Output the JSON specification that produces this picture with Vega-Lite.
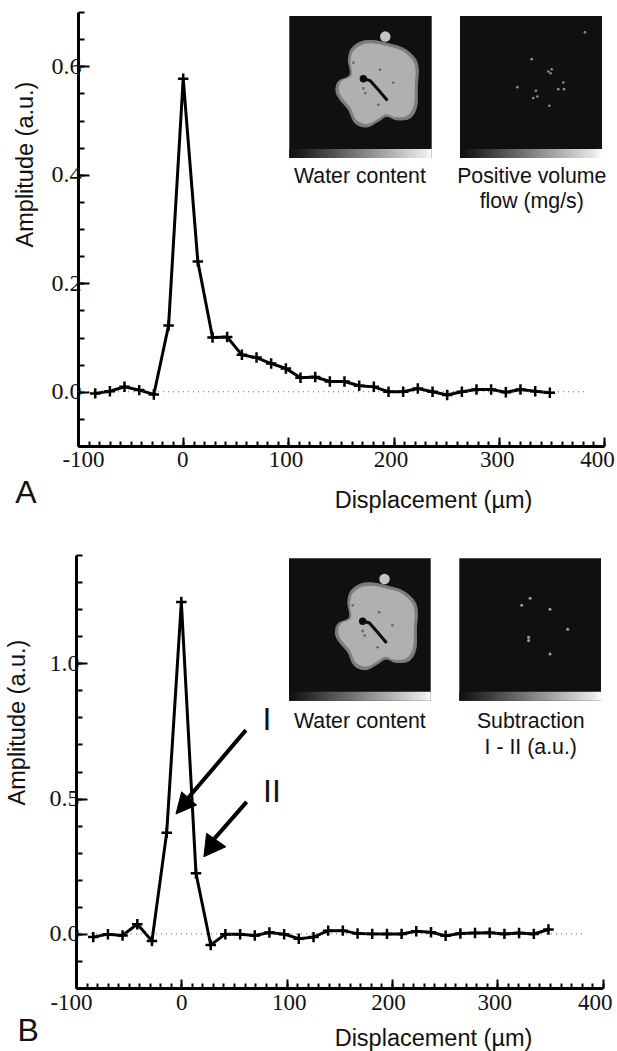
{
"$schema":"https://vega.github.io/schema/vega-lite/v6.json",
"width":617,"height":1051,"padding":0,"autosize":{"type":"none"},"background":"white",
"config":{"view":{"stroke":null},"axis":{"grid":false}},
"datasets":{
"lineA":[{"x":-83.6,"y":-0.003},{"x":-69.7,"y":0.001},{"x":-55.8,"y":0.009},{"x":-41.8,"y":0.003},{"x":-27.9,"y":-0.005},{"x":-13.9,"y":0.122},{"x":0,"y":0.577},{"x":13.9,"y":0.24},{"x":27.9,"y":0.1},{"x":41.8,"y":0.101},{"x":55.8,"y":0.068},{"x":69.7,"y":0.063},{"x":83.6,"y":0.052},{"x":97.6,"y":0.043},{"x":111.5,"y":0.026},{"x":125.5,"y":0.027},{"x":139.4,"y":0.019},{"x":153.3,"y":0.019},{"x":167.3,"y":0.011},{"x":181.2,"y":0.009},{"x":195.2,"y":0},{"x":209.1,"y":0},{"x":223,"y":0.006},{"x":237,"y":0},{"x":250.9,"y":-0.006},{"x":264.9,"y":0},{"x":278.8,"y":0.004},{"x":292.7,"y":0.004},{"x":306.7,"y":-0.001},{"x":320.6,"y":0.004},{"x":334.6,"y":0.001},{"x":348.5,"y":-0.002}],
"lineB":[{"x":-83.6,"y":-0.012},{"x":-69.7,"y":-0.001},{"x":-55.8,"y":-0.006},{"x":-41.8,"y":0.036},{"x":-27.9,"y":-0.026},{"x":-13.9,"y":0.374},{"x":0,"y":1.226},{"x":13.9,"y":0.224},{"x":27.9,"y":-0.041},{"x":41.8,"y":-0.001},{"x":55.8,"y":-0.001},{"x":69.7,"y":-0.006},{"x":83.6,"y":0.005},{"x":97.6,"y":-0.001},{"x":111.5,"y":-0.018},{"x":125.5,"y":-0.012},{"x":139.4,"y":0.012},{"x":153.3,"y":0.012},{"x":167.3,"y":0.001},{"x":181.2,"y":0},{"x":195.2,"y":0},{"x":209.1,"y":0},{"x":223,"y":0.01},{"x":237,"y":0.006},{"x":250.9,"y":-0.007},{"x":264.9,"y":0.001},{"x":278.8,"y":0.003},{"x":292.7,"y":0.004},{"x":306.7,"y":0},{"x":320.6,"y":0.003},{"x":334.6,"y":0},{"x":348.5,"y":0.016}],
"zero":[{"x":-100,"x2":382,"y":0}],
"textA":[{"x":-149.4,"y":-0.186,"t":"A","s":"p"},{"x":168,"y":0.395,"t":"Water content","s":"c"},{"x":331.3,"y":0.395,"t":"Positive volume","s":"c"},{"x":331.3,"y":0.349,"t":"flow (mg/s)","s":"c"}],
"textB":[{"x":-145.5,"y":-0.36,"t":"B","s":"p"},{"x":81.2,"y":0.79,"t":"I","s":"p"},{"x":86,"y":0.524,"t":"II","s":"p"},{"x":169.5,"y":0.782,"t":"Water content","s":"c"},{"x":331.7,"y":0.782,"t":"Subtraction","s":"c"},{"x":331.7,"y":0.687,"t":"I - II (a.u.)","s":"c"}],
"shafts":[{"a":"I","i":0,"x":61.3,"y":0.753},{"a":"I","i":1,"x":6,"y":0.5},{"a":"II","i":0,"x":62,"y":0.488},{"a":"II","i":1,"x":31,"y":0.35}],
"headI":[{"i":0,"x":-5.1,"y":0.443},{"i":1,"x":0.3,"y":0.525},{"i":2,"x":14.5,"y":0.476}],
"headII":[{"i":0,"x":21.4,"y":0.285},{"i":1,"x":24,"y":0.3716},{"i":2,"x":42.3,"y":0.322}],
"bg":[{"u":0,"u2":100,"v":0,"v2":100}],
"bar":[{"u":0,"u2":100,"v":93.7,"v2":100}],
"outer":[{"i":0,"u":50.8,"v":18},{"i":1,"u":59,"v":17.3},{"i":2,"u":68.4,"v":19.2},{"i":3,"u":80.1,"v":22.7},{"i":4,"u":88.3,"v":29.7},{"i":5,"u":90.6,"v":37.9},{"i":6,"u":89.9,"v":49.6},{"i":7,"u":89.5,"v":63.7},{"i":8,"u":84.8,"v":71.9},{"i":9,"u":75.4,"v":73.1},{"i":10,"u":68.4,"v":70.7},{"i":11,"u":62.5,"v":74.2},{"i":12,"u":54.3,"v":78.2},{"i":13,"u":46.1,"v":75.4},{"i":14,"u":41.5,"v":66},{"i":15,"u":35.6,"v":59},{"i":16,"u":32.8,"v":53.2},{"i":17,"u":34.4,"v":46.1},{"i":18,"u":42.6,"v":41.5},{"i":19,"u":41.5,"v":30.9},{"i":20,"u":43.8,"v":22.7}],
"inner":[{"i":0,"u":51.9,"v":20.3},{"i":1,"u":59.2,"v":19.7},{"i":2,"u":67.9,"v":21.4},{"i":3,"u":78.7,"v":24.6},{"i":4,"u":86.2,"v":31},{"i":5,"u":88.3,"v":38.5},{"i":6,"u":87.7,"v":49.3},{"i":7,"u":87.3,"v":62.2},{"i":8,"u":83,"v":69.8},{"i":9,"u":74.3,"v":70.9},{"i":10,"u":67.9,"v":68.8},{"i":11,"u":62.5,"v":72},{"i":12,"u":54.9,"v":75.7},{"i":13,"u":47.4,"v":73.1},{"i":14,"u":43.2,"v":64.4},{"i":15,"u":37.8,"v":58},{"i":16,"u":35.2,"v":52.7},{"i":17,"u":36.6,"v":46.2},{"i":18,"u":44.1,"v":41.9},{"i":19,"u":43.2,"v":32.2},{"i":20,"u":45.3,"v":24.6}],
"slit":[{"i":0,"u":50.8,"v":43.8},{"i":1,"u":56.7,"v":45.4},{"i":2,"u":62.5,"v":52},{"i":3,"u":68.9,"v":59.5}],
"knob":[{"u":52,"v":44.2}],
"bead":[{"u":67.4,"v":14.5}],
"flecks":[{"u":53.4,"v":54.3},{"u":63.7,"v":37.9},{"u":62.5,"v":62.5},{"u":73,"v":47},{"u":52,"v":51},{"u":45,"v":33}],
"spotsA":[{"u":50.5,"v":30.4},{"u":62.2,"v":39.1},{"u":64.6,"v":37.5},{"u":63.8,"v":40.3},{"u":69.2,"v":51.5},{"u":72.8,"v":46.8},{"u":73.2,"v":51.5},{"u":53.5,"v":52.7},{"u":51.6,"v":57.8},{"u":54.5,"v":56.7},{"u":62.9,"v":63.2},{"u":88,"v":11.5},{"u":40.4,"v":50.1}],
"spotsB":[{"u":64,"v":35.8},{"u":76.5,"v":49.9},{"u":48.9,"v":57.8},{"u":48.9,"v":55.5},{"u":64,"v":67.2},{"u":44,"v":33},{"u":50,"v":28}]
},
"resolve":{"scale":{"x":"independent","y":"independent"},"axis":{"x":"independent","y":"independent"}},
"layer":[
{"data":{"name":"lineA"},"mark":{"type":"line","color":"black","strokeWidth":3},
 "encoding":{
 "x":{"field":"x","type":"quantitative","scale":{"domain":[-100,400],"range":[78,604],"nice":false},
  "axis":{"orient":"bottom","offset":-605,"values":[-100,-90,-80,-70,-60,-50,-40,-30,-20,-10,0,10,20,30,40,50,60,70,80,90,100,110,120,130,140,150,160,170,180,190,200,210,220,230,240,250,260,270,280,290,300,310,320,330,340,350,360,370,380,390,400],"labels":false,"domain":false,"title":null,"tickSize":-5,"tickWidth":2,"tickColor":"black"}},
 "y":{"field":"y","type":"quantitative","scale":{"domain":[-0.1,0.7],"range":[446,12],"nice":false,"zero":false},
  "axis":{"orient":"left","offset":-78,"values":[-0.1,-0.05,0,0.05,0.1,0.15,0.2,0.25,0.3,0.35,0.4,0.45,0.5,0.55,0.6,0.65,0.7],"labels":false,"domain":false,"title":null,"tickSize":-6,"tickWidth":2,"tickColor":"black"}}}},
{"encoding":{
 "x":{"field":"x","type":"quantitative","scale":{"domain":[-100,400],"range":[78,604],"nice":false},
  "axis":{"orient":"bottom","offset":-605,"values":[-100,0,100,200,300,400],"labelExpr":"''+datum.value","labelFont":"Liberation Serif","labelFontSize":23,"labelColor":"#111","labelPadding":11,"labelOverlap":false,"labelFlush":false,"labelBound":false,
  "labelOffset":{"condition":[{"test":"datum.value==-100","value":5},{"test":"datum.value==0","value":-1},{"test":"datum.value==100","value":-3},{"test":"datum.value==200","value":-3},{"test":"datum.value==300","value":-2}],"value":-7},
  "domainWidth":3,"domainColor":"black","tickSize":-9,"tickWidth":2,"tickColor":"black","title":"Displacement (µm)","titleFont":"Liberation Sans","titleFontSize":23.5,"titleFontWeight":"normal","titleColor":"#111","titleAnchor":null,"titleAlign":"center","titleBaseline":"middle","titleX":433,"titleY":54}},
 "y":{"field":"y","type":"quantitative","scale":{"domain":[-0.1,0.7],"range":[446,12],"nice":false,"zero":false},
  "axis":{"orient":"left","offset":-78,"values":[0,0.2,0.4,0.6],"format":".1f","labelFont":"Liberation Serif","labelFontSize":24,"labelColor":"#111","labelPadding":8,"labelOverlap":false,"labelFlush":false,"domainWidth":3,"domainColor":"black","tickSize":-11,"tickWidth":2,"tickColor":"black","title":"Amplitude (a.u.)","titleFont":"Liberation Sans","titleFontSize":23.5,"titleFontWeight":"normal","titleColor":"#111","titleAnchor":null,"titleAlign":"center","titleBaseline":"middle","titleAngle":270,"titleX":-53,"titleY":164}}},
 "layer":[
 {"data":{"name":"zero"},"mark":{"type":"rule","color":"#666","strokeWidth":1,"strokeDash":[1,4]},"encoding":{"x2":{"field":"x2"}}},
 {"data":{"name":"lineA"},"mark":{"type":"point","shape":"M-1,0L1,0M0,-1L0,1","filled":false,"stroke":"black","strokeWidth":2.5,"size":110,"opacity":1}},
 {"data":{"name":"textA"},"transform":[{"filter":"datum.s=='c'"}],"mark":{"type":"text","font":"Liberation Sans","fontSize":21.3,"color":"#111","align":"center","baseline":"middle"},"encoding":{"text":{"field":"t"}}},
 {"data":{"name":"textA"},"transform":[{"filter":"datum.s=='p'"}],"mark":{"type":"text","font":"Liberation Sans","fontSize":32,"color":"#111","align":"center","baseline":"middle"},"encoding":{"text":{"field":"t"}}}
 ]},
{"data":{"name":"lineB"},"mark":{"type":"line","color":"black","strokeWidth":3},
 "encoding":{
 "x":{"field":"x","type":"quantitative","scale":{"domain":[-100,400],"range":[76,602.7],"nice":false},
  "axis":{"orient":"bottom","offset":-63,"values":[-100,-90,-80,-70,-60,-50,-40,-30,-20,-10,0,10,20,30,40,50,60,70,80,90,100,110,120,130,140,150,160,170,180,190,200,210,220,230,240,250,260,270,280,290,300,310,320,330,340,350,360,370,380,390,400],"labels":false,"domain":false,"title":null,"tickSize":-5,"tickWidth":2,"tickColor":"black"}},
 "y":{"field":"y","type":"quantitative","scale":{"domain":[-0.2,1.4],"range":[988,555],"nice":false,"zero":false},
  "axis":{"orient":"left","offset":-76,"values":[-0.2,-0.1,0,0.1,0.2,0.3,0.4,0.5,0.6,0.7,0.8,0.9,1,1.1,1.2,1.3,1.4],"labels":false,"domain":false,"title":null,"tickSize":-6,"tickWidth":2,"tickColor":"black"}}}},
{"encoding":{
 "x":{"field":"x","type":"quantitative","scale":{"domain":[-100,400],"range":[76,602.7],"nice":false},
  "axis":{"orient":"bottom","offset":-63,"values":[-100,0,100,200,300,400],"labelExpr":"''+datum.value","labelFont":"Liberation Serif","labelFontSize":23,"labelColor":"#111","labelPadding":12,"labelOverlap":false,"labelFlush":false,"labelBound":false,
  "labelOffset":{"condition":[{"test":"datum.value==-100","value":-5},{"test":"datum.value==0","value":0},{"test":"datum.value==100","value":2},{"test":"datum.value==200","value":-4},{"test":"datum.value==300","value":-3}],"value":-8},
  "domainWidth":3,"domainColor":"black","tickSize":-9,"tickWidth":2,"tickColor":"black","title":"Displacement (µm)","titleFont":"Liberation Sans","titleFontSize":23.5,"titleFontWeight":"normal","titleColor":"#111","titleAnchor":null,"titleAlign":"center","titleBaseline":"middle","titleX":433,"titleY":50}},
 "y":{"field":"y","type":"quantitative","scale":{"domain":[-0.2,1.4],"range":[988,555],"nice":false,"zero":false},
  "axis":{"orient":"left","offset":-76,"values":[0,0.5,1],"format":".1f","labelFont":"Liberation Serif","labelFontSize":24,"labelColor":"#111","labelPadding":8,"labelOverlap":false,"labelFlush":false,"domainWidth":3,"domainColor":"black","tickSize":-11,"tickWidth":2,"tickColor":"black","title":"Amplitude (a.u.)","titleFont":"Liberation Sans","titleFontSize":23.5,"titleFontWeight":"normal","titleColor":"#111","titleAnchor":null,"titleAlign":"center","titleBaseline":"middle","titleAngle":270,"titleX":-59,"titleY":722}}},
 "layer":[
 {"data":{"name":"zero"},"mark":{"type":"rule","color":"#666","strokeWidth":1,"strokeDash":[1,4]},"encoding":{"x2":{"field":"x2"}}},
 {"data":{"name":"lineB"},"mark":{"type":"point","shape":"M-1,0L1,0M0,-1L0,1","filled":false,"stroke":"black","strokeWidth":2.5,"size":110,"opacity":1}},
 {"data":{"name":"shafts"},"mark":{"type":"line","color":"black","strokeWidth":4},"encoding":{"detail":{"field":"a"},"order":{"field":"i"}}},
 {"data":{"name":"headI"},"mark":{"type":"line","filled":true,"fill":"black","stroke":"black","strokeWidth":1,"interpolate":"linear-closed"},"encoding":{"order":{"field":"i"}}},
 {"data":{"name":"headII"},"mark":{"type":"line","filled":true,"fill":"black","stroke":"black","strokeWidth":1,"interpolate":"linear-closed"},"encoding":{"order":{"field":"i"}}},
 {"data":{"name":"textB"},"transform":[{"filter":"datum.s=='c'"}],"mark":{"type":"text","font":"Liberation Sans","fontSize":21.3,"color":"#111","align":"center","baseline":"middle"},"encoding":{"text":{"field":"t"}}},
 {"data":{"name":"textB"},"transform":[{"filter":"datum.s=='p'"}],"mark":{"type":"text","font":"Liberation Sans","fontSize":32,"color":"#111","align":"center","baseline":"middle"},"encoding":{"text":{"field":"t"}}}
 ]},
{"encoding":{"x":{"field":"u","type":"quantitative","scale":{"domain":[0,100],"range":[289.3,431.7],"nice":false},"axis":null},"y":{"field":"v","type":"quantitative","scale":{"domain":[0,100],"range":[16,158],"nice":false,"zero":false},"axis":null}},
 "layer":[
 {"data":{"name":"bg"},"mark":{"type":"rect","fill":"#101010"},"encoding":{"x2":{"field":"u2"},"y2":{"field":"v2"}}},
 {"data":{"name":"bar"},"mark":{"type":"rect","fill":{"gradient":"linear","x1":0,"y1":0,"x2":1,"y2":0,"stops":[{"offset":0,"color":"#101010"},{"offset":0.1,"color":"#222222"},{"offset":0.95,"color":"#e8e8e8"},{"offset":1,"color":"#ffffff"}]}},"encoding":{"x2":{"field":"u2"},"y2":{"field":"v2"}}},
 {"data":{"name":"outer"},"mark":{"type":"line","filled":true,"fill":"#7d7d7d","stroke":"#7d7d7d","strokeWidth":1,"interpolate":"cardinal-closed"},"encoding":{"order":{"field":"i"}}},
 {"data":{"name":"inner"},"mark":{"type":"line","filled":true,"fill":"#b0b0b0","stroke":"#b0b0b0","strokeWidth":1,"interpolate":"cardinal-closed"},"encoding":{"order":{"field":"i"}}},
 {"data":{"name":"slit"},"mark":{"type":"line","color":"#0c0c0c","strokeWidth":3},"encoding":{"order":{"field":"i"}}},
 {"data":{"name":"knob"},"mark":{"type":"point","filled":true,"color":"#0c0c0c","size":55,"opacity":1}},
 {"data":{"name":"bead"},"mark":{"type":"point","filled":true,"color":"#c4c4c4","size":110,"opacity":1}},
 {"data":{"name":"flecks"},"mark":{"type":"point","filled":true,"color":"#666666","size":7,"opacity":1}}
 ]},
{"encoding":{"x":{"field":"u","type":"quantitative","scale":{"domain":[0,100],"range":[460,602],"nice":false},"axis":null},"y":{"field":"v","type":"quantitative","scale":{"domain":[0,100],"range":[16,158],"nice":false,"zero":false},"axis":null}},
 "layer":[
 {"data":{"name":"bg"},"mark":{"type":"rect","fill":"#101010"},"encoding":{"x2":{"field":"u2"},"y2":{"field":"v2"}}},
 {"data":{"name":"bar"},"mark":{"type":"rect","fill":{"gradient":"linear","x1":0,"y1":0,"x2":1,"y2":0,"stops":[{"offset":0,"color":"#101010"},{"offset":0.1,"color":"#222222"},{"offset":0.95,"color":"#e8e8e8"},{"offset":1,"color":"#ffffff"}]}},"encoding":{"x2":{"field":"u2"},"y2":{"field":"v2"}}},
 {"data":{"name":"spotsA"},"mark":{"type":"point","filled":true,"color":"#8a8a8a","size":7,"opacity":1}}
 ]},
{"encoding":{"x":{"field":"u","type":"quantitative","scale":{"domain":[0,100],"range":[289,430.7],"nice":false},"axis":null},"y":{"field":"v","type":"quantitative","scale":{"domain":[0,100],"range":[558.3,700.7],"nice":false,"zero":false},"axis":null}},
 "layer":[
 {"data":{"name":"bg"},"mark":{"type":"rect","fill":"#101010"},"encoding":{"x2":{"field":"u2"},"y2":{"field":"v2"}}},
 {"data":{"name":"bar"},"mark":{"type":"rect","fill":{"gradient":"linear","x1":0,"y1":0,"x2":1,"y2":0,"stops":[{"offset":0,"color":"#101010"},{"offset":0.1,"color":"#222222"},{"offset":0.95,"color":"#e8e8e8"},{"offset":1,"color":"#ffffff"}]}},"encoding":{"x2":{"field":"u2"},"y2":{"field":"v2"}}},
 {"data":{"name":"outer"},"mark":{"type":"line","filled":true,"fill":"#7d7d7d","stroke":"#7d7d7d","strokeWidth":1,"interpolate":"cardinal-closed"},"encoding":{"order":{"field":"i"}}},
 {"data":{"name":"inner"},"mark":{"type":"line","filled":true,"fill":"#b0b0b0","stroke":"#b0b0b0","strokeWidth":1,"interpolate":"cardinal-closed"},"encoding":{"order":{"field":"i"}}},
 {"data":{"name":"slit"},"mark":{"type":"line","color":"#0c0c0c","strokeWidth":3},"encoding":{"order":{"field":"i"}}},
 {"data":{"name":"knob"},"mark":{"type":"point","filled":true,"color":"#0c0c0c","size":55,"opacity":1}},
 {"data":{"name":"bead"},"mark":{"type":"point","filled":true,"color":"#c4c4c4","size":110,"opacity":1}},
 {"data":{"name":"flecks"},"mark":{"type":"point","filled":true,"color":"#666666","size":7,"opacity":1}}
 ]},
{"encoding":{"x":{"field":"u","type":"quantitative","scale":{"domain":[0,100],"range":[459.3,601],"nice":false},"axis":null},"y":{"field":"v","type":"quantitative","scale":{"domain":[0,100],"range":[558.3,700.7],"nice":false,"zero":false},"axis":null}},
 "layer":[
 {"data":{"name":"bg"},"mark":{"type":"rect","fill":"#101010"},"encoding":{"x2":{"field":"u2"},"y2":{"field":"v2"}}},
 {"data":{"name":"bar"},"mark":{"type":"rect","fill":{"gradient":"linear","x1":0,"y1":0,"x2":1,"y2":0,"stops":[{"offset":0,"color":"#101010"},{"offset":0.1,"color":"#222222"},{"offset":0.95,"color":"#e8e8e8"},{"offset":1,"color":"#ffffff"}]}},"encoding":{"x2":{"field":"u2"},"y2":{"field":"v2"}}},
 {"data":{"name":"spotsB"},"mark":{"type":"point","filled":true,"color":"#a0a0a0","size":9,"opacity":1}}
 ]}
]
}
